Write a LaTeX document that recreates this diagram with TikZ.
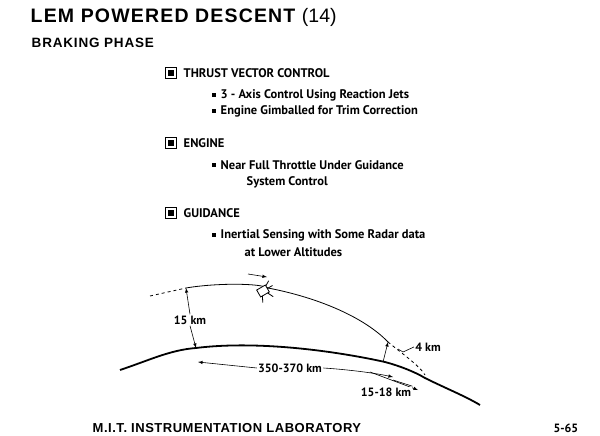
\documentclass[tikz,border=0pt]{standalone}
\usepackage{fontspec}
\setmainfont{PT Sans}
\newfontfamily\headfont[LetterSpace=6]{Liberation Sans}
\newfontfamily\footfont[LetterSpace=4]{Liberation Sans}
\usetikzlibrary{arrows,calc}

\tikzset{
  item/.style={anchor=west, font=\bfseries\fontsize{12.5}{14}\selectfont},
  head/.style={anchor=west, font=\bfseries\fontsize{12.5}{14}\selectfont},
  bullet/.style={fill=black, minimum size=4.5pt, inner sep=0pt},
  boxbul/.style={draw, line width=1.3pt, minimum size=11pt, inner sep=0pt, path picture={\fill[black] ([shift={(2.5pt,2.5pt)}]path picture bounding box.south west) rectangle ([shift={(-2.5pt,-2.5pt)}]path picture bounding box.north east);}},
  dim/.style={->, >=latex, semithick},
  lbl/.style={font=\bfseries\fontsize{12}{13}\selectfont, fill=white, inner sep=1pt}
}

\begin{document}
\begin{tikzpicture}[x=1pt, y=-1pt, thick]
\useasboundingbox (0,0) rectangle (600,436);

% titles
\node[anchor=west, font=\headfont\bfseries\fontsize{19.5}{24}\selectfont] (title) at (27,17) {LEM POWERED DESCENT \addfontfeature{LetterSpace=0}\mdseries(14)};
\node[anchor=west, font=\headfont\bfseries\fontsize{13.5}{15}\selectfont] (phase) at (28,43) {BRAKING PHASE};

% list
\node[boxbul] (b1) at (171,73) {};
\node[head] (h1) at (180,73) {THRUST VECTOR CONTROL};
\node[bullet] (s1) at (214,95) {};
\node[item] (t1) at (217,95) {3 - Axis Control Using Reaction Jets};
\node[bullet] (s2) at (214,111) {};
\node[item] (t2) at (217,111) {Engine Gimballed for Trim Correction};

\node[boxbul] (b2) at (171,143) {};
\node[head] (h2) at (180,143) {ENGINE};
\node[bullet] (s3) at (214,165) {};
\node[item] (t3) at (217,165) {Near Full Throttle Under Guidance};
\node[item] (t3b) at (243,182) {System Control};

\node[boxbul] (b3) at (171,213) {};
\node[head] (h3) at (180,213) {GUIDANCE};
\node[bullet] (s4) at (214,235) {};
\node[item] (t4) at (217,235) {Inertial Sensing with Some Radar data};
\node[item] (t4b) at (241,252) {at Lower Altitudes};

% surface
\coordinate (g1) at (120,370);
\coordinate (g2) at (196,348);
\coordinate (g3) at (385,362);
\coordinate (g4) at (425,378);
\coordinate (g5) at (480,405);
\draw[line width=1.8pt] (g1) .. controls (150,360) and (170,350) .. (g2)
  .. controls (260,340) and (340,352) .. (g3)
  .. controls (400,366) and (415,372) .. (g4)
  .. controls (445,388) and (465,396) .. (g5);

% trajectory
\coordinate (p0) at (150,296);
\coordinate (p1) at (186,288);
\coordinate (p2) at (388,342);
\coordinate (p3) at (425,375);
\draw[dashed, thick] (p0) -- (p1);
\draw[thick] (p1) .. controls (215,283) and (260,283) .. (268,288)
  .. controls (320,298) and (365,318) .. (p2);
\draw[dashed, thick] (p2) .. controls (400,352) and (420,366) .. (p3);

% lander
\begin{scope}[shift={(263,291)}, rotate=30]
  \draw[fill=white, thick] (-5,-4) rectangle (5,4);
  \draw[thick] (-3,4) -- (-6,10) (3,4) -- (6,10) (5,0) -- (11,0) (5,-3) -- (10,-6);
\end{scope}
\draw[dim] (248,274) -- (267,277);

% dimensions
\node[lbl] (d15) at (190,320) {15 km};
\draw[dim] (d15.north) -- (p1);
\draw[dim] (d15.south) -- (g2);

\coordinate (k4) at (383,362);
\draw[dim] (k4) -- (p2);
\node[lbl] (d4) at (428,347) {4 km};
\draw[semithick] (d4.west) -- (403,352) -- (398,349);

\node[lbl] (d350) at (290,368) {350-370 km};
\coordinate (e350) at (198,362);
\coordinate (f350) at (393,377);
\draw[dim] (d350.west) -- (e350);
\draw[dim] (d350.east) .. controls (340,369) and (370,372) .. (f350);

\coordinate (a15) at (370,372);
\coordinate (z15) at (418,390);
\draw[dim] (a15) -- (z15);
\node[lbl] (d1518) at (386,392) {15-18 km};
\draw[semithick] (d1518.north east) -- (393,380);

% footer
\node[anchor=west, font=\footfont\bfseries\fontsize{13}{15}\selectfont] (mit) at (89,428) {M.I.T.\ INSTRUMENTATION LABORATORY};
\node[anchor=east, font=\bfseries\fontsize{12}{13}\selectfont] (pg) at (582,428) {5-65};
\end{tikzpicture}
\end{document}
